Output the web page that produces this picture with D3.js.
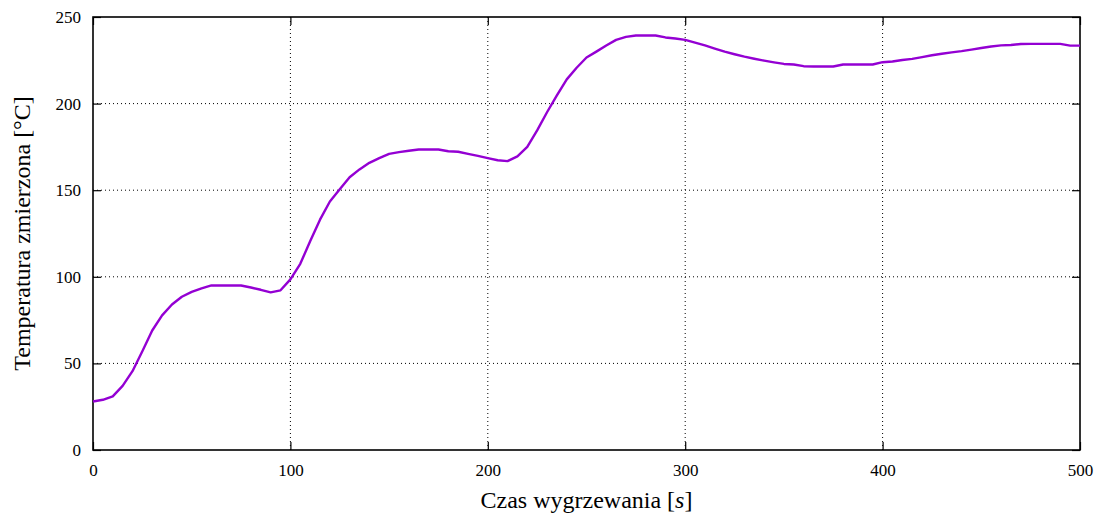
<!DOCTYPE html>
<html>
<head>
<meta charset="utf-8">
<script src="https://cdn.jsdelivr.net/npm/d3@7"></script>
<style>
  html, body { margin: 0; padding: 0; background: #fff; }
  svg { display: block; }
  text { font-family: "Liberation Serif", "DejaVu Serif", serif; fill: #000; }
</style>
</head>
<body>
<svg id="chart" width="1098" height="515"></svg>
<script>
// Time samples [s] every 5 s
const timeS = d3.range(0, 501, 5);
// Measured temperature [°C] at each sample
const tempC = [
  28, 29, 31, 37, 45.5, 57, 69, 77.7, 84, 88.5,
  91.3, 93.3, 95, 95, 95, 95, 93.8, 92.5, 91, 92.2,
  98.5, 107.5, 120.5, 133, 143.5, 150.5, 157.5, 162, 165.8, 168.5,
  171, 172, 172.8, 173.5, 173.5, 173.5, 172.5, 172.2, 171, 169.8,
  168.5, 167.3, 166.8, 169.5, 175, 184.5, 195, 204.7, 214, 220.7,
  226.6, 230, 233.5, 236.8, 238.5, 239.3, 239.3, 239.3, 238.2, 237.6,
  236.8, 235.2, 233.6, 231.8, 230, 228.5, 227.1, 225.9, 224.8, 223.8,
  222.9, 222.6, 221.6, 221.4, 221.4, 221.4, 222.6, 222.6, 222.6, 222.6,
  223.9, 224.3, 225.2, 225.8, 226.8, 227.9, 228.8, 229.6, 230.3, 231.2,
  232.1, 233, 233.6, 233.8, 234.4, 234.5, 234.5, 234.5, 234.5, 233.5,
  233.5
];
const xTicks = [0, 100, 200, 300, 400, 500];
const yTicks = [0, 50, 100, 150, 200, 250];
const xTitle = "Czas wygrzewania ";
const xUnit = "s";
const yTitle = "Temperatura zmierzona [°C]";

const svg = d3.select("#chart");
const m = { left: 93, right: 18, top: 17, bottom: 65 };
const W = 1098, H = 515;
const x = d3.scaleLinear().domain([0, 500]).range([m.left, W - m.right]);
const y = d3.scaleLinear().domain([0, 250]).range([H - m.bottom, m.top]);

// dotted grid
const grid = svg.append("g").attr("stroke", "#000").attr("stroke-width", 1)
  .attr("stroke-dasharray", "1,3");
xTicks.slice(1, -1).forEach(v => grid.append("line")
  .attr("x1", x(v)).attr("x2", x(v)).attr("y1", y(0)).attr("y2", y(250)));
yTicks.slice(1, -1).forEach(v => grid.append("line")
  .attr("x1", x(0)).attr("x2", x(500)).attr("y1", y(v)).attr("y2", y(v)));

// axes with inward ticks, mirrored on all four sides
const tickLen = 8;
const fmt = d3.format("d");
const ax = [
  svg.append("g").attr("transform", `translate(0,${y(0)})`)
     .call(d3.axisBottom(x).tickValues(xTicks).tickFormat(fmt).tickSizeInner(-tickLen).tickSizeOuter(0).tickPadding(14)),
  svg.append("g").attr("transform", `translate(0,${y(250)})`)
     .call(d3.axisTop(x).tickValues(xTicks).tickFormat("").tickSizeInner(-tickLen).tickSizeOuter(0)),
  svg.append("g").attr("transform", `translate(${x(0)},0)`)
     .call(d3.axisLeft(y).tickValues(yTicks).tickFormat(fmt).tickSizeInner(-tickLen).tickSizeOuter(0).tickPadding(12)),
  svg.append("g").attr("transform", `translate(${x(500)},0)`)
     .call(d3.axisRight(y).tickValues(yTicks).tickFormat("").tickSizeInner(-tickLen).tickSizeOuter(0))
];
ax.forEach(g => {
  g.select(".domain").remove();
  g.selectAll(".tick line").attr("stroke", "#000").attr("stroke-width", 1.2);
  g.selectAll(".tick text").attr("font-family", "Liberation Serif, serif").attr("font-size", 17).attr("fill", "#000");
});

// plot frame
svg.append("rect")
  .attr("x", x(0)).attr("y", y(250))
  .attr("width", x(500) - x(0)).attr("height", y(0) - y(250))
  .attr("fill", "none").attr("stroke", "#000").attr("stroke-width", 1.6);

// temperature curve
const line = d3.line().x((d, i) => x(timeS[i])).y(d => y(d));
svg.append("path")
  .datum(tempC)
  .attr("d", line)
  .attr("fill", "none")
  .attr("stroke", "#9400d3")
  .attr("stroke-width", 2.4)
  .attr("stroke-linejoin", "round");

// axis titles
const xt = svg.append("text")
  .attr("x", (x(0) + x(500)) / 2).attr("y", 508)
  .attr("text-anchor", "middle").attr("font-size", 24);
xt.append("tspan").text(xTitle + "[");
xt.append("tspan").attr("font-style", "italic").text(xUnit);
xt.append("tspan").text("]");

svg.append("text")
  .attr("transform", `translate(30,${(y(0) + y(250)) / 2}) rotate(-90)`)
  .attr("text-anchor", "middle").attr("font-size", 24)
  .text(yTitle);
</script>
</body>
</html>
